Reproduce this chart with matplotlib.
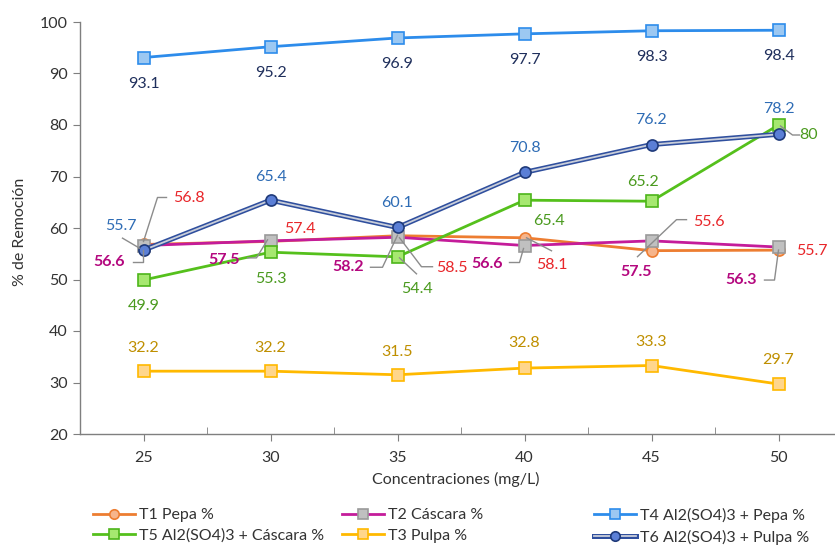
import numpy as np
import matplotlib.pyplot as plt

plt.rcParams['font.family'] = ['Lato', 'DejaVu Sans']

# Concentraciones y % de remoción por tratamiento
conc = ['25', '30', '35', '40', '45', '50']
t1_pepa = [56.8, 57.4, 58.5, 58.1, 55.6, 55.7]
t2_cascara = [56.6, 57.5, 58.2, 56.6, 57.5, 56.3]
t4_al_pepa = [93.1, 95.2, 96.9, 97.7, 98.3, 98.4]
t5_al_cascara = [49.9, 55.3, 54.4, 65.4, 65.2, 80]
t3_pulpa = [32.2, 32.2, 31.5, 32.8, 33.3, 29.7]
t6_al_pulpa = [55.7, 65.4, 60.1, 70.8, 76.2, 78.2]

x = np.arange(len(conc))

fig = plt.figure(figsize=(8.35, 5.47), dpi=100)
ax = fig.add_axes([80/835, 1-434/547, 762/835, 412/547])
ax.set_xlim(-0.5, 5.5)
ax.set_ylim(20, 100)

gris = '#8c8c8c'

# series
l1, = ax.plot(x, t1_pepa, color='#ED7D31', lw=2, marker='o', ms=8,
              mfc='#F6B58C', mec='#ED7D31', mew=1.2, label='T1 Pepa %')
l2, = ax.plot(x, t2_cascara, color='#C41C9A', lw=2, marker='s', ms=8,
              mfc='#C0C0C0', mec='#9a9a9a', mew=1.2, label='T2 Cáscara %')
l4, = ax.plot(x, t4_al_pepa, color='#2D8CEB', lw=2, marker='s', ms=8,
              mfc='#9CC8F2', mec='#2D8CEB', mew=1.2, label='T4 Al2(SO4)3 + Pepa %')
l5, = ax.plot(x, t5_al_cascara, color='#55C01C', lw=2, marker='s', ms=8,
              mfc='#A6E870', mec='#4DB51A', mew=1.2, label='T5 Al2(SO4)3 + Cáscara %')
l3, = ax.plot(x, t3_pulpa, color='#FFB900', lw=2, marker='s', ms=8,
              mfc='#FFD68C', mec='#FFB900', mew=1.2, label='T3 Pulpa %')
# doble línea para T6
l6a, = ax.plot(x, t6_al_pulpa, color='#2F4F9E', lw=3.6)
l6b, = ax.plot(x, t6_al_pulpa, color='#C9CEDA', lw=1.3, marker='o', ms=8,
               mfc='#5B7FD6', mec='#1F3A7A', mew=1.2)


def etiquetas(vals, offsets, color, leaders=None, bold=False):
    for i, v in enumerate(vals):
        dx, dy = offsets[i]
        ax.annotate(f'{v:g}', (x[i], v), xytext=(dx, dy), textcoords='offset pixels',
                    ha='center', va='center', color=color, fontsize=11.5,
                    fontweight='bold' if bold else 'normal', zorder=6)
        if leaders and i in leaders:
            base = ax.transData.transform((x[i], v))
            pts = base + np.array(leaders[i], float)
            d = ax.transData.inverted().transform(pts)
            ax.plot(d[:, 0], d[:, 1], color=gris, lw=1, zorder=5)


etiquetas(t4_al_pepa, [(0, -26)] * 6, '#1F2F5C')
etiquetas(t6_al_pulpa, [(-23, 24), (0, 23), (0, 24), (0, 24), (0, 25), (0, 25)], '#2E6CB5',
          leaders={0: [(-21, 12), (-4, 2)]})
etiquetas(t5_al_cascara, [(0, -26), (0, -27), (20, -32), (24, -21), (-8, 19), (30, -10)], '#4A9A1E',
          leaders={2: [(19, -17), (2, -1)], 5: [(21, -10), (14, -10), (2, -1)]})
etiquetas(t3_pulpa, [(0, 23), (0, 23), (0, 23), (0, 25), (0, 24), (0, 24)], '#BF8F00')
etiquetas(t1_pepa, [(45, 46), (29, 12), (54, -32), (27, -27), (57, 29), (33, -1)], '#E8262A',
          leaders={0: [(23, 47), (14, 47), (0, 3)],
                   2: [(35, -31), (24, -31), (2, -2)],
                   3: [(27, -13), (2, 0)],
                   4: [(35, 31), (25, 31), (-14, -6)]})
etiquetas(t2_cascara, [(-34, -16), (-46, -19), (-49, -30), (-37, -18), (-15, -31), (-37, -33)], '#B4087F',
          leaders={0: [(-11, -16), (-1, -16), (-1, -4)],
                   1: [(-23, -17), (-14, -17), (-3, 1)],
                   2: [(-27, -30), (-15, -30), (0, 2)],
                   3: [(-15, -17), (-5, -17), (-1, -3)],
                   5: [(-14, -33), (-4, -33), (0, -3)]},
          bold=True)

# ejes
for s in ['top', 'right']:
    ax.spines[s].set_visible(False)
for s in ['left', 'bottom']:
    ax.spines[s].set_color('#7f7f7f')
    ax.spines[s].set_linewidth(1)

ax.set_yticks(range(20, 101, 10))
ax.set_xticks(x)
ax.set_xticklabels(conc)
ax.set_xticks(np.arange(-0.5, 6, 1), minor=True)
ax.tick_params(axis='y', direction='out', length=5, color='#7f7f7f', labelsize=11.5,
               labelcolor='#333333', pad=4)
ax.tick_params(axis='x', which='major', direction='out', length=5, color='#7f7f7f',
               labelsize=11.5, labelcolor='#333333', pad=7)
ax.tick_params(axis='x', which='minor', direction='in', length=5, color='#7f7f7f')

fig.text(20/835, 1-232/547, '% de Remoción', rotation=90, ha='center', va='center',
         fontsize=11.5, color='#333333')
fig.text(456/835, 1-479/547, 'Concentraciones (mg/L)', ha='center', va='center',
         fontsize=11.5, color='#333333')

# leyenda en tres columnas
cols = [
    ([l1, l5], ['T1 Pepa %', 'T5 Al2(SO4)3 + Cáscara %'], 93),
    ([l2, l3], ['T2 Cáscara %', 'T3 Pulpa %'], 342),
    ([l4, (l6a, l6b)], ['T4 Al2(SO4)3 + Pepa %', 'T6 Al2(SO4)3 + Pulpa %'], 594),
]
for hs, labs, px in cols:
    fig.legend(hs, labs, loc='upper left', bbox_to_anchor=(px/835, 1-508/547),
               frameon=False, fontsize=11.5, handlelength=2.6, handletextpad=0.3,
               labelspacing=0.4, borderpad=0, borderaxespad=0, labelcolor='#333333',
               markerscale=0.85)

fig.savefig('out.png', dpi=100)
